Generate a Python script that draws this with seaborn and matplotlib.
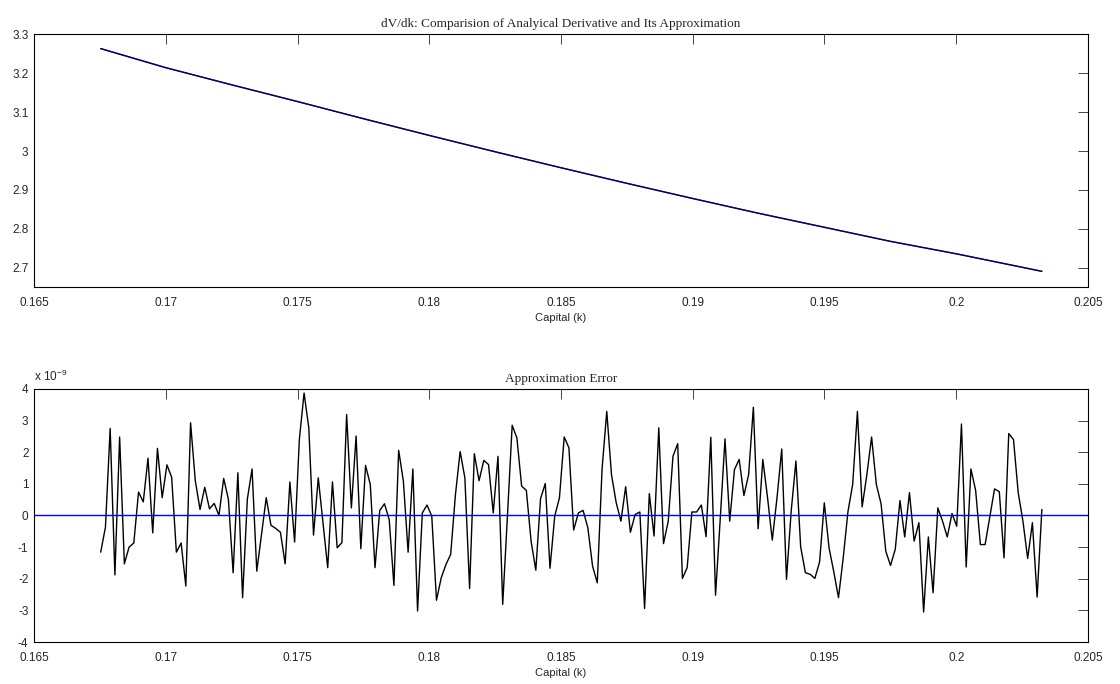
import numpy as np
import pandas as pd
import matplotlib
matplotlib.use("Agg")
import matplotlib.pyplot as plt
import seaborn as sns

# capital grid (first / last value and number of grid points)
k_first = 0.16753
k_last = 0.20325
n_points = 200

# dV/dk read at a few capital values (analytical and approximation overlap)
dv_k = [0.16753, 0.170, 0.1725, 0.175, 0.1775, 0.180, 0.1825, 0.185,
        0.1875, 0.190, 0.1925, 0.195, 0.1975, 0.200, 0.20325]
dv_values = [3.263, 3.214, 3.170, 3.127, 3.083, 3.040, 2.998, 2.957,
             2.917, 2.878, 2.840, 2.804, 2.768, 2.736, 2.691]

# approximation error, in units of 1e-9
error_e9 = [
    -1.16, -0.37, 2.75, -1.88, 2.48, -1.53, -1.00, -0.87, 0.74, 0.43,
    1.81, -0.55, 2.12, 0.56, 1.60, 1.21, -1.16, -0.87, -2.23, 2.93,
    1.10, 0.19, 0.89, 0.21, 0.38, 0.00, 1.17, 0.51, -1.81, 1.35,
    -2.60, 0.51, 1.47, -1.76, -0.60, 0.56, -0.31, -0.41, -0.53, -1.53,
    1.06, -0.84, 2.40, 3.87, 2.77, -0.62, 1.19, -0.23, -1.65, 1.06,
    -1.02, -0.86, 3.19, 0.24, 2.51, -1.05, 1.58, 0.98, -1.65, 0.16,
    0.37, -0.13, -2.21, 2.06, 1.08, -1.16, 1.47, -3.02, 0.08, 0.33,
    -0.02, -2.68, -1.97, -1.55, -1.23, 0.65, 2.02, 1.19, -2.31, 1.95,
    1.10, 1.74, 1.61, 0.08, 1.87, -2.81, -0.02, 2.85, 2.45, 0.93,
    0.79, -0.81, -1.73, 0.53, 1.01, -1.67, -0.02, 0.56, 2.48, 2.14,
    -0.46, 0.08, 0.16, -0.39, -1.60, -2.13, 1.45, 3.29, 1.29, 0.40,
    -0.18, 0.91, -0.53, 0.03, 0.11, -2.94, 0.69, -0.65, 2.77, -0.89,
    -0.18, 1.87, 2.27, -1.99, -1.65, 0.11, 0.11, 0.33, -0.67, 2.47,
    -2.52, -0.10, 2.42, -0.18, 1.45, 1.77, 0.63, 1.29, 3.42, -0.42,
    1.77, 0.56, -0.78, 0.56, 2.10, -2.02, 0.14, 1.72, -0.99, -1.81,
    -1.86, -1.99, -1.47, 0.40, -1.02, -1.78, -2.60, -1.34, 0.12, 0.98,
    3.29, 0.27, 1.29, 2.48, 0.98, 0.37, -1.13, -1.58, -1.07, 0.47,
    -0.68, 0.72, -0.81, -0.23, -3.05, -0.68, -2.44, 0.24, -0.18, -0.68,
    0.06, -0.34, 2.89, -1.63, 1.47, 0.79, -0.92, -0.92, -0.05, 0.84,
    0.75, -1.34, 2.59, 2.40, 0.72, -0.18, -1.36, -0.23, -2.58, 0.19,
]

sns.set_style("white")
plt.rcParams['font.family'] = ['Liberation Sans', 'DejaVu Sans']
plt.rcParams['axes.unicode_minus'] = False

k = np.linspace(k_first, k_last, n_points)
err_df = pd.DataFrame({'k': k, 'err': np.array(error_e9)})
dv_df = pd.DataFrame({'k': dv_k, 'dv': dv_values})

fig = plt.figure(figsize=(11.2, 6.84), dpi=100)
ax1 = fig.add_axes([0.0304, 0.580, 0.941, 0.370])
ax2 = fig.add_axes([0.0304, 0.0614, 0.941, 0.370])

# top panel: analytical derivative and its approximation (they coincide)
sns.lineplot(data=dv_df, x='k', y='dv', ax=ax1, color='blue', linewidth=1.0)
sns.lineplot(data=dv_df, x='k', y='dv', ax=ax1, color='black', linewidth=1.0, alpha=0.7)
ax1.set_xlim(0.165, 0.205)
ax1.set_ylim(2.65, 3.3)
ax1.set_yticks([2.7, 2.8, 2.9, 3.0, 3.1, 3.2, 3.3])
ax1.set_yticklabels(['2.7', '2.8', '2.9', '3', '3.1', '3.2', '3.3'])
ax1.set_title('dV/dk: Comparision of Analyical Derivative and Its Approximation',
              family=['Liberation Serif'], fontsize=9.5, pad=5)

# bottom panel: approximation error
sns.lineplot(data=err_df, x='k', y='err', ax=ax2, color='black', linewidth=1.0)
ax2.axhline(0, color='blue', linewidth=1.0)
ax2.set_xlim(0.165, 0.205)
ax2.set_ylim(-4, 4)
ax2.set_yticks(range(-4, 5))
ax2.set_title('Approximation Error', family=['Liberation Serif'], fontsize=9.5, pad=5)
ax2.text(0.0, 1.02, r'x 10$^{\mathregular{-9}}$', transform=ax2.transAxes,
         fontsize=8.5, ha='left', va='bottom')

xt = [0.165, 0.17, 0.175, 0.18, 0.185, 0.19, 0.195, 0.2, 0.205]
for ax in (ax1, ax2):
    ax.set_xticks(xt)
    ax.set_xticklabels(['0.165', '0.17', '0.175', '0.18', '0.185', '0.19',
                        '0.195', '0.2', '0.205'])
    ax.set_xlabel('Capital (k)', fontsize=8, labelpad=3)
    ax.set_ylabel('')
    ax.tick_params(direction='in', length=7, width=0.6, labelsize=8.5,
                   top=True, right=True)
    ax.tick_params(axis='x', pad=7)
    ax.tick_params(axis='y', pad=4)
    for s in ax.spines.values():
        s.set_visible(True)
        s.set_color('black')
        s.set_linewidth(0.8)

fig.savefig('out.png', dpi=100, facecolor='white')
